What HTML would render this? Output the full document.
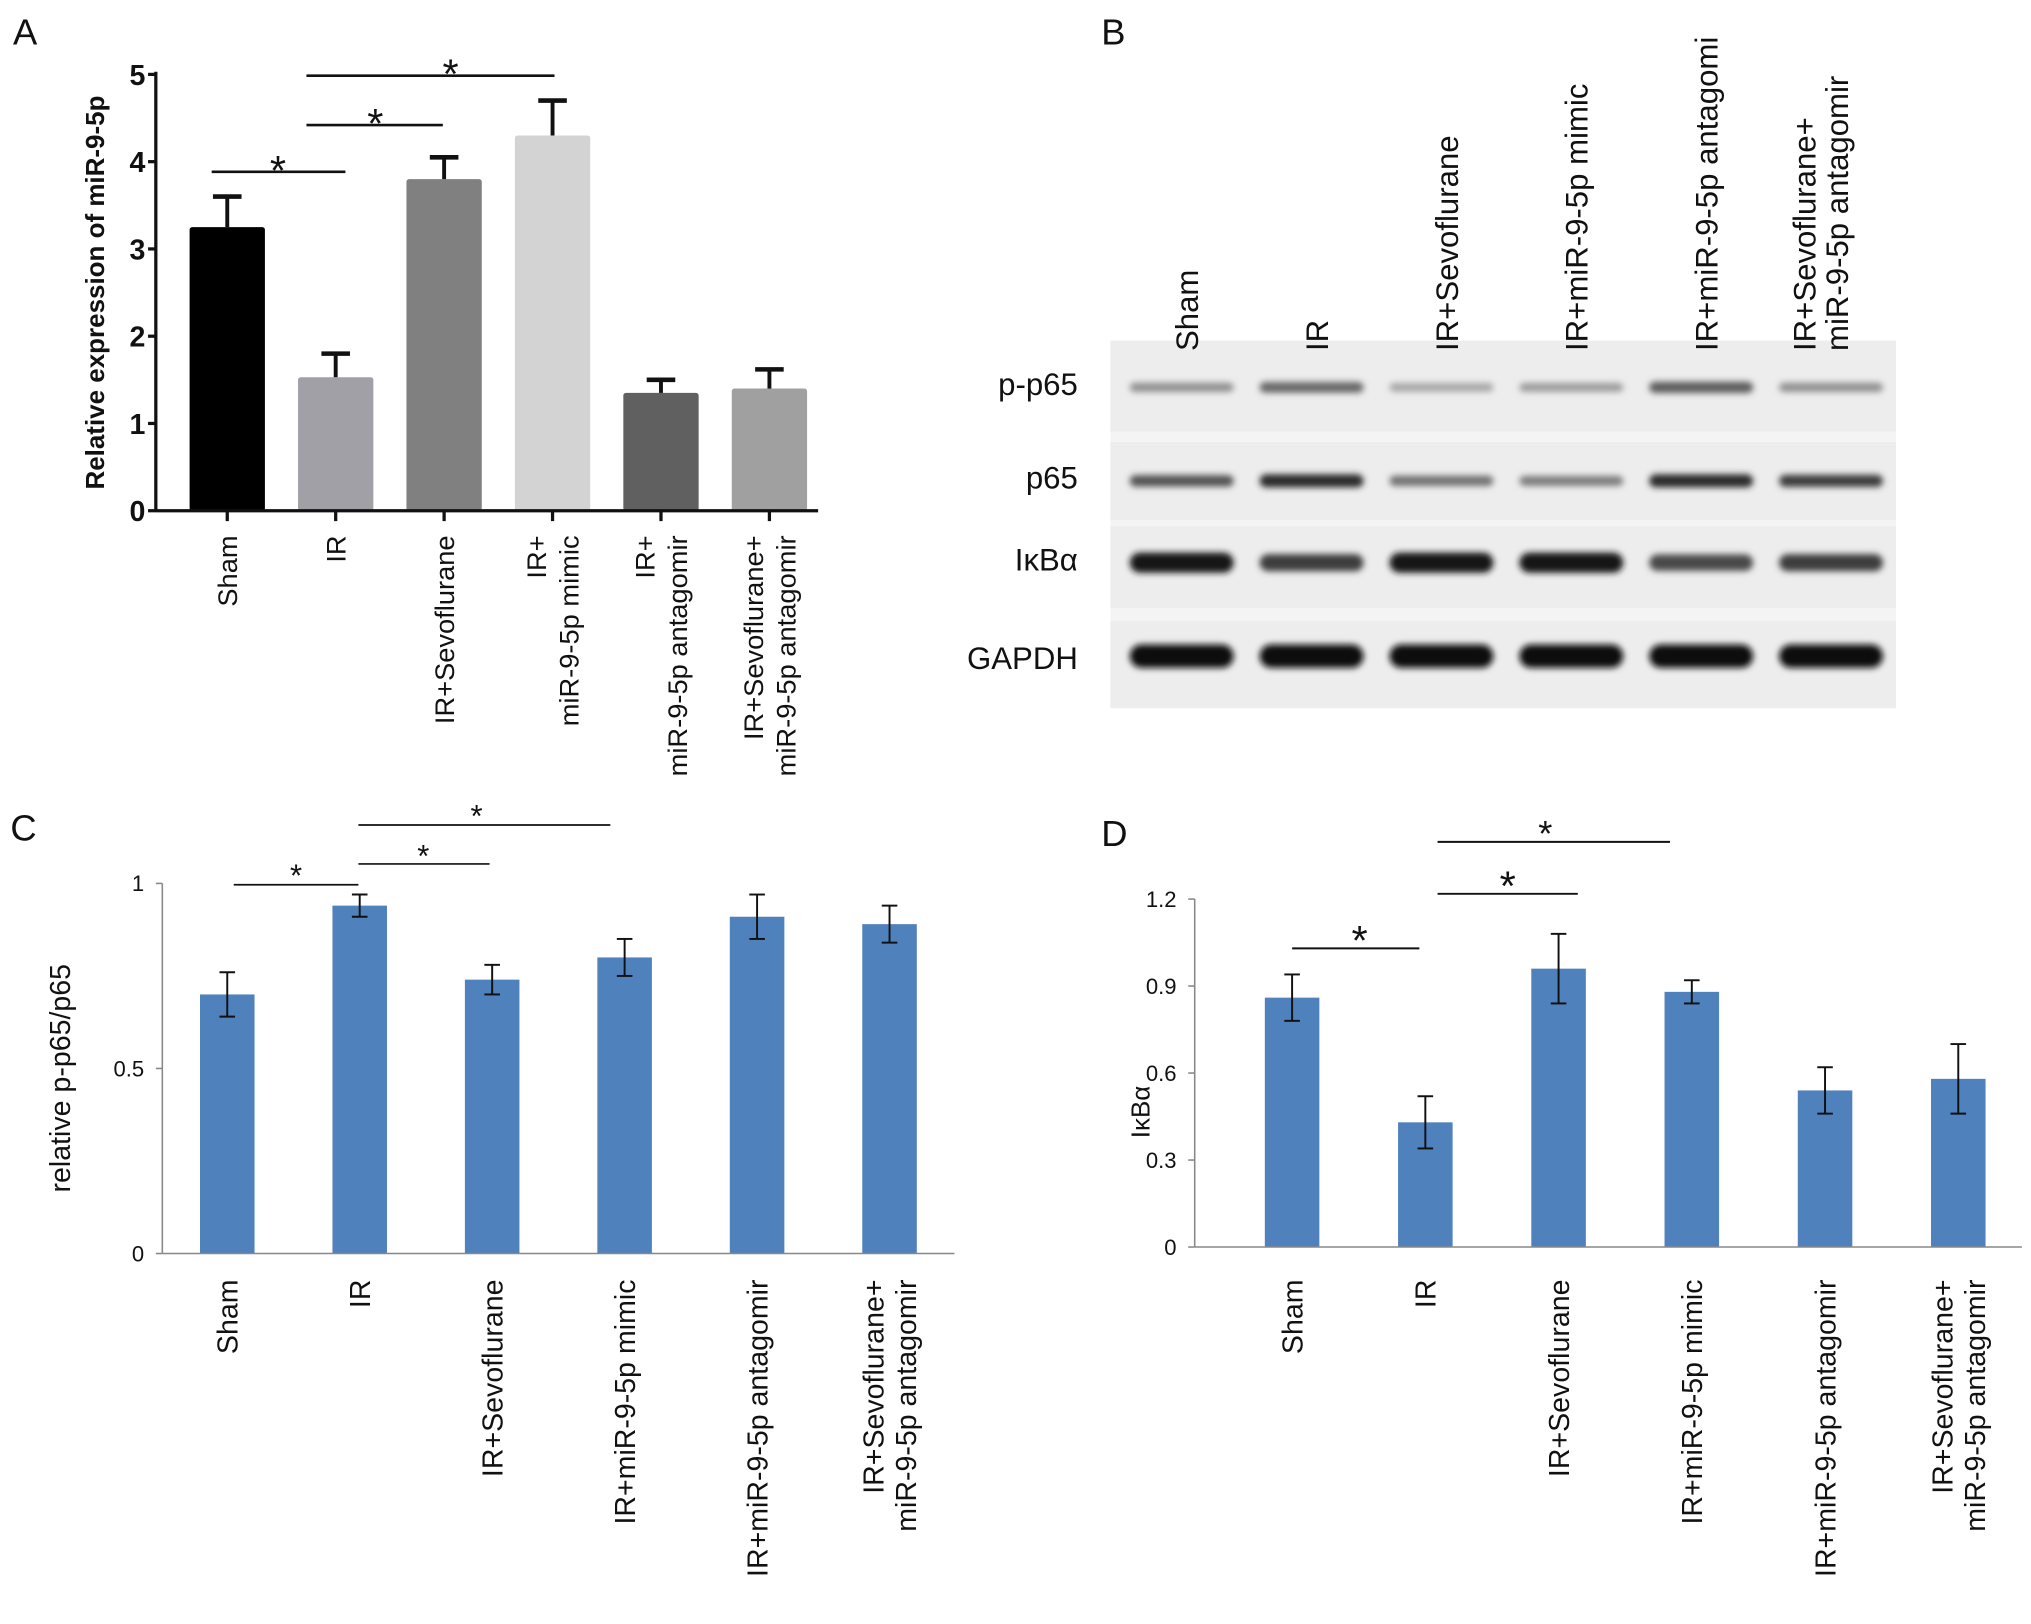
<!DOCTYPE html>
<html><head><meta charset="utf-8"><style>
html,body{margin:0;padding:0;background:#fff}
svg{display:block}
text{font-family:"Liberation Sans",Arial,sans-serif}
</style></head><body>
<svg id="fig" width="2031" height="1624" viewBox="0 0 1564 1250" xmlns="http://www.w3.org/2000/svg">
<defs><filter id="blur" x="-10%" y="-100%" width="120%" height="300%"><feGaussianBlur stdDeviation="2.5"/></filter></defs>
<rect x="0" y="0" width="1564" height="1250" fill="#fff"/>
<g id="A"></g>
<g id="B"></g>
<g id="C"></g>
<g id="D"></g>
</svg>
<script>
const NS="http://www.w3.org/2000/svg";
// Panel A data
const aCategories=[["Sham"],["IR"],["IR+Sevoflurane"],["IR+","miR-9-5p mimic"],["IR+","miR-9-5p antagomir"],["IR+Sevoflurane+","miR-9-5p antagomir"]];
const aValues=[3.25,1.53,3.8,4.3,1.35,1.4];
const aErrors=[0.35,0.27,0.25,0.4,0.15,0.22];
const aTicks=[0,1,2,3,4,5];
const aColors=["#000000","#a0a0a6","#808080","#d3d3d3","#606060","#a0a0a0"];
// Panel C data
const cCategories=[["Sham"],["IR"],["IR+Sevoflurane"],["IR+miR-9-5p mimic"],["IR+miR-9-5p antagomir"],["IR+Sevoflurane+","miR-9-5p antagomir"]];
const cValues=[0.70,0.94,0.74,0.80,0.91,0.89];
const cErrors=[0.06,0.03,0.04,0.05,0.06,0.05];
const cTicks=[0,0.5,1];
const cTickLabels=["0","0.5","1"];
// Panel D data
const dValues=[0.86,0.43,0.96,0.88,0.54,0.58];
const dErrors=[0.08,0.09,0.12,0.04,0.08,0.12];
const dTicks=[0,0.3,0.6,0.9,1.2];
const dTickLabels=["0","0.3","0.6","0.9","1.2"];
// Panel B data
const bLanes=[["Sham"],["IR"],["IR+Sevoflurane"],["IR+miR-9-5p mimic"],["IR+miR-9-5p antagomi"],["IR+Sevoflurane+","miR-9-5p antagomir"]];
const bProteins=["p-p65","p65","IκBα","GAPDH"];
const bIntensity=[[0.35,0.55,0.25,0.3,0.6,0.35],[0.65,0.85,0.5,0.45,0.85,0.75],[0.95,0.75,0.95,0.95,0.7,0.75],[1,1,1,1,1,1]];

function el(p,t,a,txt){const e=document.createElementNS(NS,t);for(const k in a)e.setAttribute(k,a[k]);if(txt!==undefined)e.textContent=txt;p.appendChild(e);return e;}
function rotLabel(g,x,yPos,lines,fs,lh,anchor){
  const n=lines.length;
  lines.forEach((s,i)=>{
    const xx=x+(i-(n-1)/2)*lh+fs*0.36;
    const t=el(g,"text",{x:xx,y:yPos,transform:`rotate(-90 ${xx} ${yPos})`,"text-anchor":anchor||"end","font-size":fs,fill:"#111"},s);
    
    
  });
}
function sig(g,x1,x2,y,sx,sy,fs,w){
  const l=el(g,"line",{x1:x1,x2:x2,y1:y,y2:y,stroke:"#111","stroke-width":w});
  
  
  const t=el(g,"text",{x:sx,y:sy,"text-anchor":"middle","font-size":fs,fill:"#111"},"*");
  
  
}

// ---- Panel A ----
(function(){
  const g=document.getElementById("A");
  el(g,"text",{x:10,y:34,"font-size":28,fill:"#111"},"A");
  const x0=120,y0=393,ppu=67.2,xs=i=>175+i*83.5,ys=v=>y0-v*ppu,bw=58;
  aValues.forEach((v,i)=>{
    const r=el(g,"rect",{x:xs(i)-bw/2,y:ys(v),width:bw,height:y0-ys(v),fill:aColors[i],rx:2});
    
    
    const top=ys(v+aErrors[i]);
    el(g,"line",{x1:xs(i),x2:xs(i),y1:ys(v),y2:top,stroke:"#111","stroke-width":3});
    el(g,"line",{x1:xs(i)-11,x2:xs(i)+11,y1:top,y2:top,stroke:"#111","stroke-width":3.5});
  });
  el(g,"line",{x1:x0,x2:x0,y1:ys(5)-2,y2:y0+1,stroke:"#111","stroke-width":2.5});
  el(g,"line",{x1:x0,x2:630,y1:y0,y2:y0,stroke:"#111","stroke-width":2.5});
  aTicks.forEach(t=>{
    el(g,"line",{x1:x0-6,x2:x0,y1:ys(t),y2:ys(t),stroke:"#111","stroke-width":2.5});
    const l=el(g,"text",{x:x0-8,y:ys(t)+8,"text-anchor":"end","font-size":22,"font-weight":"bold",fill:"#111"},t);
    
    
  });
  aCategories.forEach((c,i)=>{el(g,"line",{x1:xs(i),x2:xs(i),y1:y0,y2:y0+8,stroke:"#111","stroke-width":2.5});rotLabel(g,xs(i),412,c,21,25,"end");});
  const yt=el(g,"text",{x:80,y:225,transform:"rotate(-90 80 225)","text-anchor":"middle","font-size":20,"font-weight":"bold",fill:"#111"},"Relative expression of miR-9-5p");
  
  
  sig(g,163,266,132,214,142,32,2);
  sig(g,236,341,96,289,106,32,2);
  sig(g,236,427,58,347,68,32,2);
})();

// ---- Panel B ----
(function(){
  const g=document.getElementById("B");
  el(g,"text",{x:848,y:34,"font-size":28,fill:"#111"},"B");
  const lx=i=>910+i*100;
  const rows=[[262,332,298],[340,400,370],[405,468,433],[478,545,505]];
  el(g,"rect",{x:855,y:262,width:605,height:283,fill:"#f4f4f4"});
  rows.forEach((r,ri)=>{
    el(g,"rect",{x:855,y:r[0],width:605,height:r[1]-r[0],fill:"#ededed"});
    const lab=el(g,"text",{x:830,y:r[2]+(ri==3?10:6),"text-anchor":"end","font-size":24,fill:"#111"},bProteins[ri]);
    
    
    bIntensity[ri].forEach((v,i)=>{
      const h=5+v*(ri==3?13:ri==2?11:6);
      const c=Math.round(215-v*205);
      const b=el(g,"rect",{x:lx(i)-40,y:r[2]-h/2,width:80,height:h,rx:h/2,fill:`rgb(${c},${c},${c})`,filter:"url(#blur)"});
      
      
    });
  });
  bLanes.forEach((c,i)=>rotLabel(g,lx(i)+(i==5?-8:4),270,c,24,25,"start"));
})();

function bluePanel(g,x0,y0,ppu,xs,vals,errs,ticks,tlabels,xEnd,cats){
  const ys=v=>y0-v*ppu,bw=42;
  vals.forEach((v,i)=>{
    const r=el(g,"rect",{x:xs(i)-bw/2,y:ys(v),width:bw,height:y0-ys(v),fill:"#4f81bd"});
    
    
    el(g,"line",{x1:xs(i),x2:xs(i),y1:ys(v-errs[i]),y2:ys(v+errs[i]),stroke:"#111","stroke-width":1.5});
    el(g,"line",{x1:xs(i)-6,x2:xs(i)+6,y1:ys(v+errs[i]),y2:ys(v+errs[i]),stroke:"#111","stroke-width":1.5});
    el(g,"line",{x1:xs(i)-6,x2:xs(i)+6,y1:ys(v-errs[i]),y2:ys(v-errs[i]),stroke:"#111","stroke-width":1.5});
  });
  el(g,"line",{x1:x0,x2:x0,y1:ys(ticks[ticks.length-1]),y2:y0,stroke:"#888","stroke-width":1.2});
  el(g,"line",{x1:x0,x2:xEnd,y1:y0,y2:y0,stroke:"#888","stroke-width":1.2});
  ticks.forEach((t,i)=>{
    el(g,"line",{x1:x0-5,x2:x0,y1:ys(t),y2:ys(t),stroke:"#888","stroke-width":1.2});
    const l=el(g,"text",{x:x0-14,y:ys(t)+6,"text-anchor":"end","font-size":17,fill:"#111"},tlabels[i]);
    
    
  });
  cats.forEach((c,i)=>rotLabel(g,xs(i),985,c,22,25,"end"));
}
// ---- Panel C ----
(function(){
  const g=document.getElementById("C");
  el(g,"text",{x:8,y:647,"font-size":28,fill:"#111"},"C");
  bluePanel(g,125,965,285,i=>175+i*102,cValues,cErrors,cTicks,cTickLabels,735,cCategories);
  const yt=el(g,"text",{x:54,y:830,transform:"rotate(-90 54 830)","text-anchor":"middle","font-size":22,fill:"#111"},"relative p-p65/p65");
  
  
  sig(g,180,276,681,228,682,24,1.3);
  sig(g,276,377,665,326,667,24,1.3);
  sig(g,276,470,635,367,636,24,1.3);
})();
// ---- Panel D ----
(function(){
  const g=document.getElementById("D");
  el(g,"text",{x:848,y:651,"font-size":28,fill:"#111"},"D");
  bluePanel(g,920,960,223.3,i=>995+i*102.6,dValues,dErrors,dTicks,dTickLabels,1557,cCategories);
  const yt=el(g,"text",{x:885,y:856,transform:"rotate(-90 885 856)","text-anchor":"middle","font-size":20,fill:"#111"},"IκBα");
  
  
  sig(g,995,1093,730,1047,735,32,1.5);
  sig(g,1107,1215,688,1161,693,32,1.5);
  sig(g,1107,1286,648,1190,651,28,1.5);
})();
</script>
</body></html>
